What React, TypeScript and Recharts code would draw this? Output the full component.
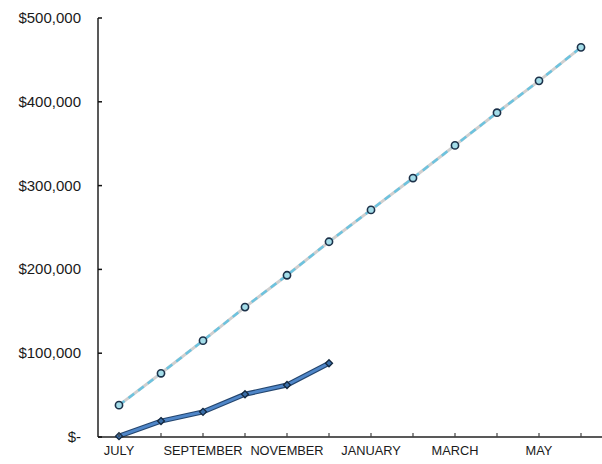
import { LineChart, Line, XAxis, YAxis } from "recharts";

// Месяцы финансового года
const MONTHS = [
  "JULY", "AUGUST", "SEPTEMBER", "OCTOBER", "NOVEMBER", "DECEMBER",
  "JANUARY", "FEBRUARY", "MARCH", "APRIL", "MAY", "JUNE",
];

// Плановая (нарастающая) линия
const PLAN = [38000, 76000, 115000, 155000, 193000, 233000, 271000, 309000, 348000, 387000, 425000, 465000];

// Фактические значения (только первые полгода)
const ACTUAL = [1000, 19000, 30000, 51000, 62000, 88000, null, null, null, null, null, null];

const Y_TICKS = [0, 100000, 200000, 300000, 400000, 500000];

const FONT = '"Liberation Sans", Arial, sans-serif';

const data = MONTHS.map((m, i) => ({ month: m, plan: PLAN[i], actual: ACTUAL[i] }));

function formatMoney(v: number): string {
  if (v === 0) return "$-";
  return "$" + v.toLocaleString("en-US");
}

const YTick = ({ x, y, payload }: any) => (
  <g>
    <text x={x} y={y} dy={5} textAnchor="end" fill="#1a1a1a" fontSize={15} fontFamily={FONT}>
      {formatMoney(payload.value)}
    </text>
    <line x1={x + 17} x2={x + 21} y1={y} y2={y} stroke="#111" strokeWidth={1.5} />
  </g>
);

const XTick = ({ x, y, payload, index }: any) => (
  <g>
    <line x1={x} x2={x} y1={y - 4} y2={y} stroke="#444" strokeWidth={1.2} />
    {index % 2 === 0 && (
      <text x={x} y={y + 18} textAnchor="middle" fill="#1a1a1a" fontSize={12.8} fontFamily={FONT}>
        {payload.value}
      </text>
    )}
  </g>
);

const PlanDot = ({ cx, cy }: any) => {
  if (cx == null || cy == null) return null;
  return <circle cx={cx} cy={cy} r={3.6} fill="#a4dde9" stroke="#1c3149" strokeWidth={1.6} />;
};

const ActualDot = ({ cx, cy }: any) => {
  if (cx == null || cy == null) return null;
  const s = 3.5;
  return (
    <polygon
      points={`${cx},${cy - s} ${cx + s},${cy} ${cx},${cy + s} ${cx - s},${cy}`}
      fill="#3a6ea8"
      stroke="#14283f"
      strokeWidth={1.3}
    />
  );
};

export default function App() {
  return (
    <div style={{ position: "absolute", left: 0, top: 0, width: 602, height: 464, background: "#fff" }}>
      <LineChart
        width={602}
        height={464}
        data={data}
        margin={{ top: 18, right: 0, left: 0, bottom: 0 }}
      >
        <XAxis
          dataKey="month"
          interval={0}
          height={27}
          padding={{ left: 21, right: 21 }}
          tickSize={0}
          tickMargin={0}
          tick={<XTick />}
          axisLine={{ stroke: "#222", strokeWidth: 1.5 }}
          tickLine={false}
        />
        <YAxis
          width={98}
          domain={[0, 500000]}
          ticks={Y_TICKS}
          tickSize={0}
          tickMargin={17}
          tick={<YTick />}
          axisLine={{ stroke: "#222", strokeWidth: 1.5 }}
          tickLine={false}
        />
        {/* Плановая линия: серая подложка + голубой пунктир */}
        <Line
          dataKey="plan"
          stroke="#cfcfcf"
          strokeWidth={3}
          dot={false}
          isAnimationActive={false}
        />
        <Line
          dataKey="plan"
          stroke="#6cc3df"
          strokeWidth={2.5}
          strokeDasharray="7 5"
          dot={<PlanDot />}
          isAnimationActive={false}
        />
        {/* Факт: тёмная обводка + синяя линия */}
        <Line
          dataKey="actual"
          stroke="#24466f"
          strokeWidth={5}
          dot={false}
          connectNulls={false}
          isAnimationActive={false}
        />
        <Line
          dataKey="actual"
          stroke="#4f86c8"
          strokeWidth={2.8}
          dot={<ActualDot />}
          connectNulls={false}
          isAnimationActive={false}
        />
      </LineChart>
    </div>
  );
}
